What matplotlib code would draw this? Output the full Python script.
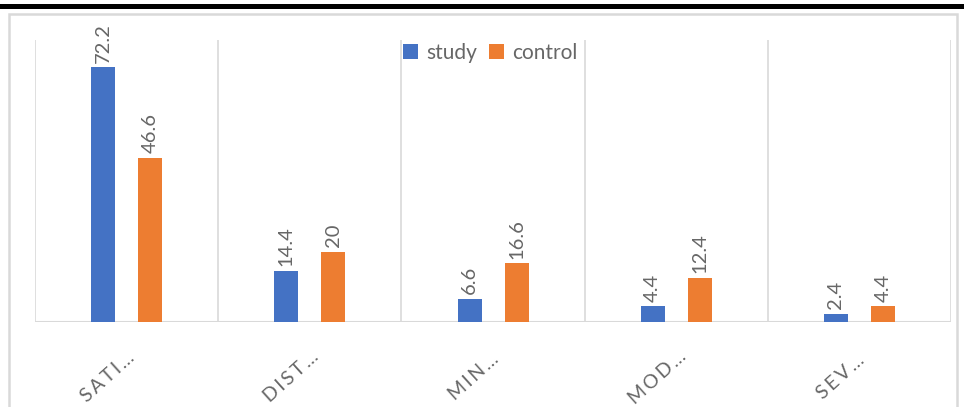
import matplotlib
matplotlib.use("Agg")
import matplotlib.pyplot as plt
from matplotlib.patches import Rectangle
from matplotlib.transforms import blended_transform_factory
import numpy as np

plt.rcParams['font.family'] = ['Lato', 'DejaVu Sans']

categories = ["SATI…", "DIST…", "MIN…", "MOD…", "SEV…"]
study = [72.2, 14.4, 6.6, 4.4, 2.4]
control = [46.6, 20, 16.6, 12.4, 4.4]
series_names = ["study", "control"]

BLUE = "#4472C4"
ORANGE = "#ED7D31"
GRID = "#D9D9D9"
TEXT = "#676767"

W, H = 964, 407
fig = plt.figure(figsize=(W / 100, H / 100), dpi=100)

# page rule at the top and the chart frame
fig.patches.append(Rectangle((0, (H - 8.5) / H), 1, 4.5 / H, transform=fig.transFigure,
                             facecolor="black", edgecolor="none"))
fig.patches.append(Rectangle((9 / W, -0.1), 948 / W, (H - 14) / H + 0.1,
                             transform=fig.transFigure, facecolor="none",
                             edgecolor=GRID, linewidth=1.8))

left, right, bottom, top = 35, 951, 322, 40
ax = fig.add_axes([left / W, (H - bottom) / H, (right - left) / W, (bottom - top) / H])

x = np.arange(len(categories))
cat_px = (right - left) / len(categories)
bw = 24 / cat_px
off = 23.5 / cat_px

b1 = ax.bar(x - off, study, bw, color=BLUE, label=series_names[0], zorder=3)
b2 = ax.bar(x + off, control, bw, color=ORANGE, label=series_names[1], zorder=3)

for bars, vals in ((b1, study), (b2, control)):
    for rect, v in zip(bars, vals):
        ax.annotate(f"{v:g}", (rect.get_x() + rect.get_width() / 2, v),
                    xytext=(0, 3.5), textcoords="offset points", rotation=90,
                    ha="center", va="bottom", fontsize=14.5, color=TEXT,
                    annotation_clip=False)

ax.set_xlim(-0.5, len(categories) - 0.5)
ax.set_ylim(0, 80)
for b in np.arange(-0.5, len(categories), 1.0):
    ax.axvline(b, color=GRID, linewidth=1.2, zorder=1)
ax.axhline(0, color=GRID, linewidth=1.5, zorder=2)

for s in ax.spines.values():
    s.set_visible(False)
ax.set_xticks([])
ax.set_yticks([])

# category names, rotated and spread out a little
trans = blended_transform_factory(ax.transData, ax.transAxes)
for i, lab in enumerate(categories):
    spaced = "\u2009".join(lab[:-1]) + "\u2009" + lab[-1]
    ax.text(i - 19 / cat_px, -55 / (bottom - top), spaced, transform=trans,
            rotation=42, rotation_mode="anchor", ha="center", va="center",
            fontsize=14, color=TEXT)

leg = ax.legend(loc="center", bbox_to_anchor=(0.497, 0.954), ncol=2, frameon=False,
                fontsize=15, handlelength=0.7, handleheight=0.7, handletextpad=0.4,
                columnspacing=0.6, borderpad=0)
for t in leg.get_texts():
    t.set_color(TEXT)

fig.savefig("out.png", dpi=100)
